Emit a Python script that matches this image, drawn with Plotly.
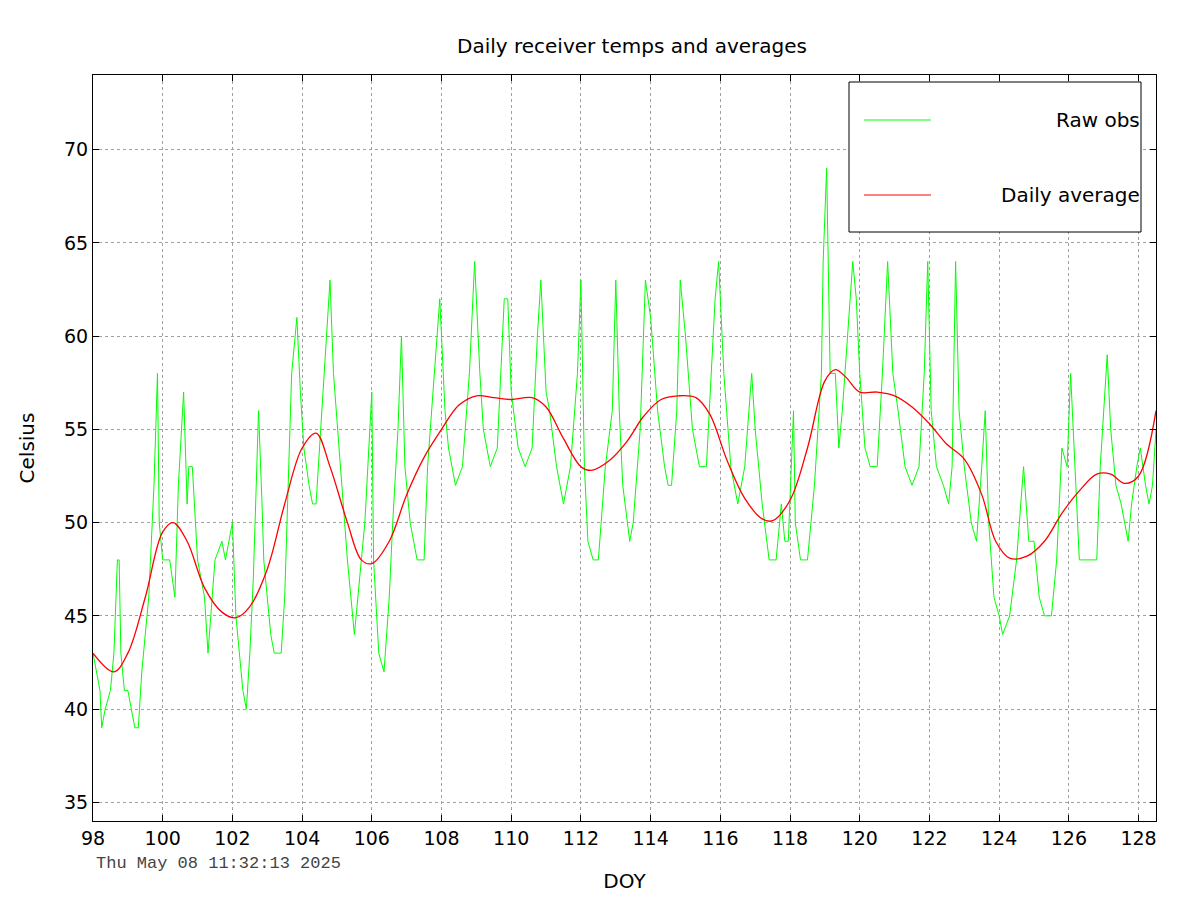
import plotly.graph_objects as go

raw_doy = [98.0,98.2,98.25,98.35,98.5,98.6,98.7,98.75,98.8,98.9,99.0,99.1,99.2,99.3,99.4,99.6,99.75,99.85,99.9,100.0,100.2,100.35,100.45,100.6,100.7,100.75,100.85,101.0,101.2,101.3,101.5,101.7,101.8,101.9,102.0,102.1,102.2,102.3,102.4,102.5,102.6,102.75,102.85,102.9,103.0,103.1,103.2,103.4,103.5,103.7,103.85,103.95,104.05,104.2,104.3,104.4,104.6,104.8,104.9,105.1,105.3,105.5,105.6,105.8,106.0,106.05,106.2,106.35,106.5,106.6,106.75,106.85,106.95,107.1,107.3,107.5,107.6,107.8,107.95,108.1,108.2,108.4,108.6,108.8,108.95,109.1,109.2,109.4,109.6,109.8,109.9,110.0,110.2,110.4,110.6,110.75,110.85,111.0,111.1,111.3,111.5,111.7,111.9,112.0,112.1,112.2,112.35,112.5,112.7,112.9,113.0,113.1,113.2,113.4,113.5,113.7,113.85,114.0,114.2,114.4,114.5,114.6,114.75,114.85,115.0,115.2,115.4,115.6,115.75,115.85,115.95,116.1,116.3,116.5,116.7,116.9,117.0,117.2,117.4,117.6,117.75,117.85,117.95,118.1,118.15,118.3,118.5,118.7,118.9,118.95,119.05,119.15,119.3,119.4,119.5,119.65,119.8,119.9,120.0,120.15,120.3,120.5,120.65,120.8,120.95,121.1,121.3,121.5,121.7,121.85,121.95,122.05,122.2,122.4,122.55,122.65,122.75,122.85,123.0,123.2,123.35,123.5,123.6,123.7,123.85,124.0,124.1,124.3,124.5,124.7,124.85,125.0,125.15,125.3,125.5,125.65,125.8,125.95,126.05,126.2,126.3,126.5,126.8,126.9,127.1,127.2,127.35,127.5,127.7,127.8,127.95,128.05,128.2,128.3,128.4,128.5]
raw_temp = [43,41,39,40,41,43,48,48,43,41,41,40,39,39,42,46,52,58,50,48,48,46,52,57,51,53,53,48,46,43,48,49,48,49,50,45,43,41,40,43,47,56,51,48,46,44,43,43,46,58,61,57,54,52,51,51,57,63,58,53,48,44,46,50,57,48,43,42,46,50,55,60,53,50,48,48,53,58,62,56,54,52,53,58,64,58,55,53,54,62,62,57,54,53,54,60,63,57,56,53,51,53,58,63,53,49,48,48,53,56,63,56,52,49,50,55,63,61,56,53,52,52,56,63,60,55,53,53,58,62,64,58,53,51,53,58,55,51,48,48,51,49,49,56,50,48,48,52,58,64,69,58,58,54,56,60,64,62,58,54,53,53,58,64,58,56,53,52,53,58,64,56,53,52,51,53,64,56,53,50,49,53,56,50,46,45,44,45,48,53,49,49,46,45,45,48,54,53,58,52,48,48,48,53,59,55,52,51,49,51,53,54,52,51,52,55]

avg_doy = [98,98.6,99,99.5,100,100.3,100.7,101.2,101.7,102.1,102.5,103,103.5,104,104.4,104.8,105.3,105.7,106,106.5,107,107.5,108,108.5,109,109.5,110,110.6,111,111.5,112,112.3,112.8,113.3,113.8,114.3,114.8,115.3,115.7,116.2,116.7,117.2,117.5,118,118.5,119,119.3,119.6,120,120.5,121,121.5,122,122.5,123,123.5,123.9,124.3,124.8,125.3,125.8,126.3,126.8,127.2,127.6,128,128.5]
avg_temp = [43,42,43,46,49.5,50,49,46.5,45.2,44.9,45.5,47.5,51,54,54.8,53,50,48,47.8,49,51.5,53.5,55,56.3,56.8,56.7,56.6,56.7,56.2,54.5,53,52.8,53.3,54.3,55.7,56.6,56.8,56.7,55.8,53.3,51.3,50.2,50.1,51.2,54,57.6,58.2,57.8,57,57,56.8,56.2,55.3,54.2,53.4,51.5,49,48.1,48.2,49,50.5,51.7,52.6,52.6,52.1,52.5,56]

x_ticks = list(range(98, 129, 2))
y_ticks = list(range(35, 71, 5))
font = "DejaVu Sans"

fig = go.Figure()
fig.add_trace(go.Scatter(x=raw_doy, y=raw_temp, mode="lines", line=dict(color="#00ff00", width=1), showlegend=False))
fig.add_trace(go.Scatter(x=avg_doy, y=avg_temp, mode="lines", line=dict(color="#ff0000", width=1.3, shape="spline"), showlegend=False))

ax = dict(showline=True, linecolor="black", mirror="ticks", ticks="inside", ticklen=6, tickcolor="black",
          showgrid=True, gridcolor="#a0a0a0", griddash="dot", gridwidth=1, zeroline=False,
          tickfont=dict(size=19, color="black", family=font))
fig.update_xaxes(range=[98, 128.5], tickvals=x_ticks, **ax,
                 title=dict(text="DOY", font=dict(size=20, family=font, color="black"), standoff=26))
fig.update_yaxes(range=[34, 74], tickvals=y_ticks, **ax,
                 title=dict(text="Celsius", font=dict(size=20, family=font, color="black"), standoff=24))

H = 746.0
W = 1063.0
fig.add_shape(type="rect", xref="paper", yref="paper", x0=(848-92)/W, x1=(1140-92)/W,
              y0=(820-231)/H, y1=(820-81)/H, line=dict(color="black", width=1), fillcolor="white", layer="above")
ys = [(820-119)/H, (820-194)/H]
for yy, (c, t) in zip(ys, [("#00ff00", "Raw obs"), ("#ff0000", "Daily average")]):
    fig.add_shape(type="line", xref="paper", yref="paper", x0=(863-92)/W, x1=(930-92)/W, y0=yy, y1=yy,
                  line=dict(color=c, width=1))
    fig.add_annotation(xref="paper", yref="paper", x=(1141-92)/W, y=yy, text=t, showarrow=False,
                       xanchor="right", yanchor="middle", font=dict(size=20, family=font, color="black"))

fig.add_annotation(xref="paper", yref="paper", x=(93-92)/W, y=-(862-820)/H, text="Thu May 08 11:32:13 2025",
                   showarrow=False, xanchor="left", yanchor="middle",
                   font=dict(size=17, family="Liberation Mono", color="#444444"))

fig.update_layout(width=1200, height=900, margin=dict(l=85, r=52, t=67, b=87),
                  paper_bgcolor="white", plot_bgcolor="white",
                  title=dict(text="Daily receiver temps and averages", x=0.52, xanchor="center",
                             y=1-38/900, yanchor="middle",
                             font=dict(size=20, family=font, color="black")))
fig.write_html("out.html")
